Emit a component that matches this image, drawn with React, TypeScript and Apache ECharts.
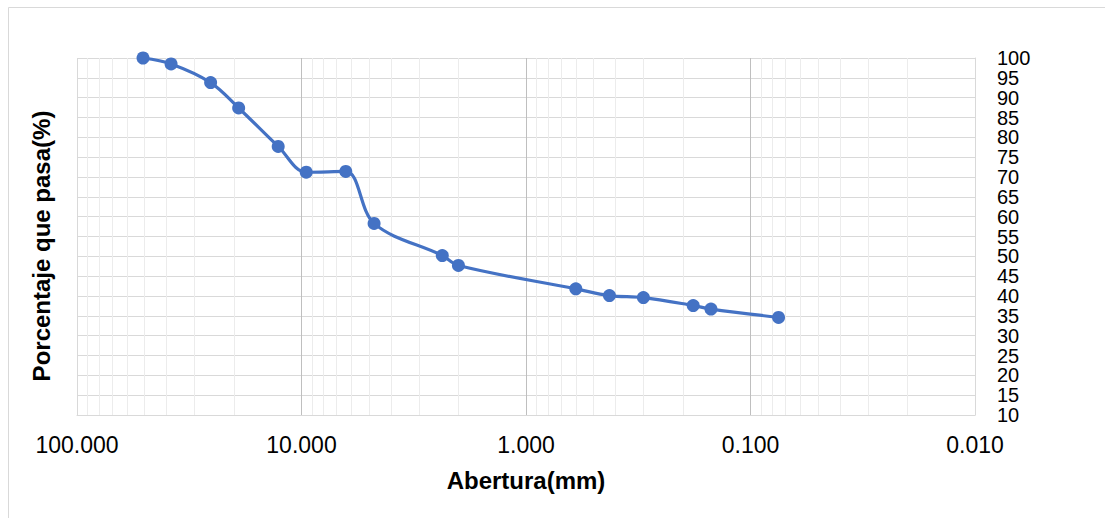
import React, { useEffect, useRef } from "react";
import * as echarts from "echarts";

const SIZES_MM = [50.8, 38.1, 25.4, 19.05, 12.7, 9.525, 6.35, 4.75, 2.36, 2.0, 0.6, 0.425, 0.3, 0.18, 0.15, 0.075];
const PERCENT_PASSING = [100, 98.5, 93.8, 87.4, 77.7, 71.2, 71.4, 58.3, 50.2, 47.7, 41.8, 40.1, 39.6, 37.6, 36.7, 34.6];
const MINOR_GRID = [
  0.02, 0.03, 0.04, 0.05, 0.06, 0.07, 0.08, 0.09,
  0.2, 0.3, 0.4, 0.5, 0.6, 0.7, 0.8, 0.9,
  2, 3, 4, 5, 6, 7, 8, 9,
  20, 30, 40, 50, 60, 70, 80, 90,
];
const X_TITLE = "Abertura(mm)";
const Y_TITLE = "Porcentaje que pasa(%)";

export default function App() {
  const ref = useRef<HTMLDivElement>(null);
  useEffect(() => {
    if (!ref.current) return;
    const chart = echarts.init(ref.current, null, { renderer: "svg" });
    const font = "Arial, 'Liberation Sans', sans-serif";
    chart.setOption({
      animation: false,
      backgroundColor: "#ffffff",
      graphic: [
        {
          type: "rect",
          shape: { x: 8.5, y: 7.5, width: 1130, height: 530 },
          style: { fill: "none", stroke: "#d9d9d9", lineWidth: 1 },
          silent: true,
          z: -1,
        },
        {
          type: "text",
          x: 41,
          y: 246,
          rotation: Math.PI / 2,
          style: {
            text: Y_TITLE,
            fontFamily: font,
            fontSize: 24,
            fontWeight: "bold",
            fill: "#000",
            align: "center",
            verticalAlign: "middle",
          },
        },
      ],
      grid: { left: 77, right: 130, top: 58, bottom: 103, containLabel: false },
      xAxis: {
        type: "log",
        logBase: 10,
        min: 0.01,
        max: 100,
        inverse: true,
        name: X_TITLE,
        nameLocation: "middle",
        nameGap: 53,
        nameTextStyle: { fontFamily: font, fontSize: 24, fontWeight: "bold", color: "#000" },
        axisLine: { show: true, lineStyle: { color: "#d9d9d9", width: 1 } },
        axisTick: { show: false },
        axisLabel: {
          fontFamily: font,
          fontSize: 23,
          color: "#000",
          margin: 18,
          showMinLabel: true,
          showMaxLabel: true,
          formatter: (v: number) => v.toFixed(3),
        },
        splitLine: {
          show: true,
          lineStyle: { color: ["#d9d9d9", "#bfbfbf", "#bfbfbf", "#bfbfbf", "#d9d9d9"], width: 1 },
        },
      },
      yAxis: {
        type: "value",
        position: "right",
        min: 10,
        max: 100,
        interval: 5,
        axisLine: { show: true, lineStyle: { color: "#d9d9d9" } },
        axisTick: { show: false },
        axisLabel: {
          fontFamily: font,
          fontSize: 20,
          color: "#000",
          margin: 22,
          lineHeight: 19,
          hideOverlap: false,
          showMinLabel: true,
          showMaxLabel: true,
        },
        splitLine: { show: true, lineStyle: { color: "#d9d9d9", width: 1 } },
      },
      series: [
        {
          type: "line",
          data: [],
          silent: true,
          z: 1,
          markLine: {
            silent: true,
            symbol: "none",
            label: { show: false },
            lineStyle: { color: "#ececec", type: "solid", width: 1 },
            data: MINOR_GRID.map((v) => ({ xAxis: v })),
          },
        },
        {
          type: "line",
          data: SIZES_MM.map((s, i) => [s, PERCENT_PASSING[i]]),
          smooth: 0.35,
          symbol: "circle",
          symbolSize: 13,
          z: 5,
          lineStyle: { color: "#4472C4", width: 3.2 },
          itemStyle: { color: "#4472C4" },
        },
      ],
    });
    return () => chart.dispose();
  }, []);
  return (
    <div
      ref={ref}
      style={{ position: "fixed", left: 0, top: 0, width: 1105, height: 518 }}
    />
  );
}
